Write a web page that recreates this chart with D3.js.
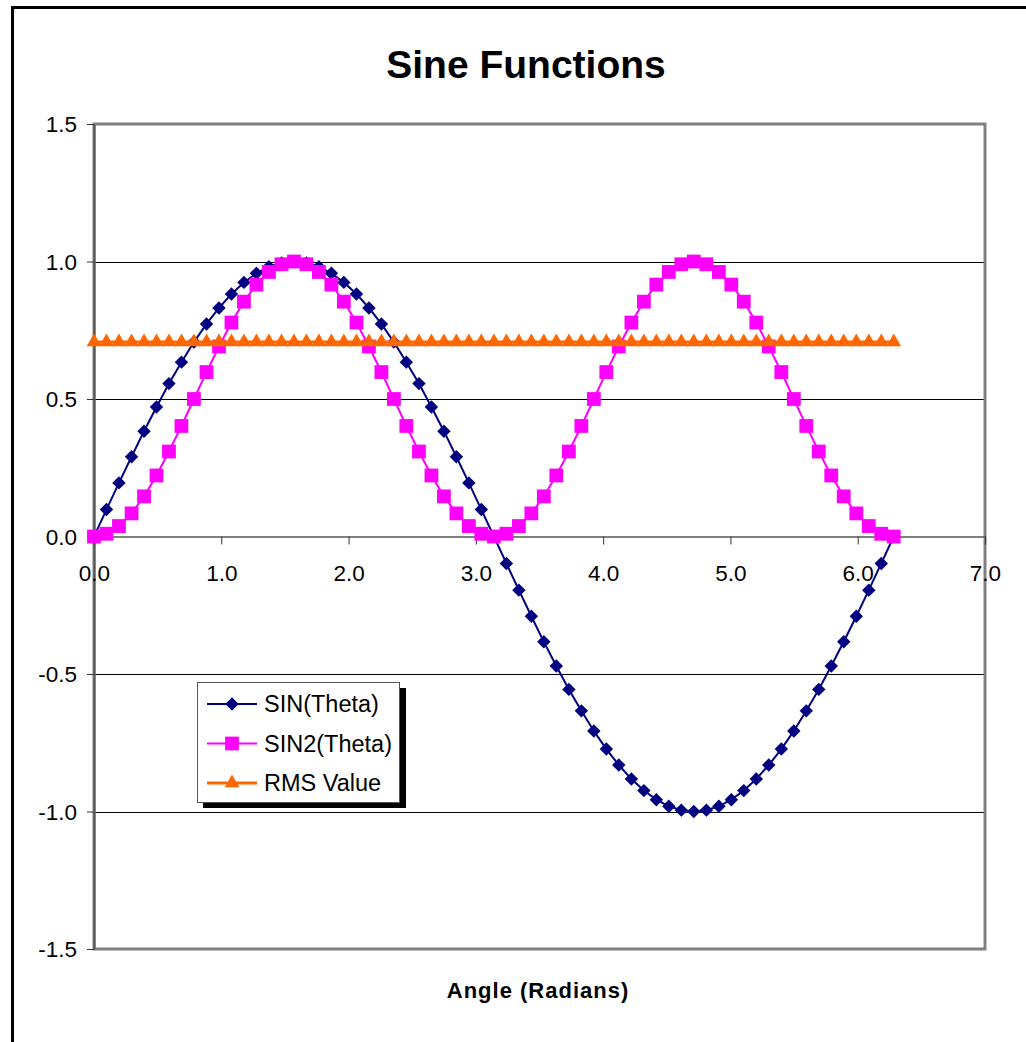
<!DOCTYPE html>
<html>
<head>
  <meta charset="utf-8">
  <title>Sine Functions</title>
  <style>
    body { margin: 0; background: #fff; }
    svg { display: block; font-family: "Liberation Sans", Arial, sans-serif; }
  </style>
</head>
<body>
  <svg></svg>
  <script src="https://d3js.org/d3.v7.min.js"></script>
  <script>
    const width = 1026;
    const height = 1042;

    // angle values (radians)
    const theta = [0.000, 0.098, 0.196, 0.295, 0.393, 0.491, 0.589, 0.687, 0.785, 0.884,
      0.982, 1.080, 1.178, 1.276, 1.374, 1.473, 1.571, 1.669, 1.767, 1.865,
      1.963, 2.062, 2.160, 2.258, 2.356, 2.454, 2.553, 2.651, 2.749, 2.847,
      2.945, 3.043, 3.142, 3.240, 3.338, 3.436, 3.534, 3.632, 3.731, 3.829,
      3.927, 4.025, 4.123, 4.222, 4.320, 4.418, 4.516, 4.614, 4.712, 4.811,
      4.909, 5.007, 5.105, 5.203, 5.301, 5.400, 5.498, 5.596, 5.694, 5.792,
      5.890, 5.989, 6.087, 6.185, 6.283];

    const sinValues = [0.000, 0.098, 0.195, 0.290, 0.383, 0.471, 0.556, 0.634, 0.707, 0.773,
      0.831, 0.882, 0.924, 0.957, 0.981, 0.995, 1.000, 0.995, 0.981, 0.957,
      0.924, 0.882, 0.831, 0.773, 0.707, 0.634, 0.556, 0.471, 0.383, 0.290,
      0.195, 0.098, 0.000, -0.098, -0.195, -0.290, -0.383, -0.471, -0.556, -0.634,
      -0.707, -0.773, -0.831, -0.882, -0.924, -0.957, -0.981, -0.995, -1.000, -0.995,
      -0.981, -0.957, -0.924, -0.882, -0.831, -0.773, -0.707, -0.634, -0.556, -0.471,
      -0.383, -0.290, -0.195, -0.098, 0.000];

    const sin2Values = [0.000, 0.010, 0.038, 0.084, 0.146, 0.222, 0.309, 0.402, 0.500, 0.598,
      0.691, 0.778, 0.854, 0.916, 0.962, 0.990, 1.000, 0.990, 0.962, 0.916,
      0.854, 0.778, 0.691, 0.598, 0.500, 0.402, 0.309, 0.222, 0.146, 0.084,
      0.038, 0.010, 0.000, 0.010, 0.038, 0.084, 0.146, 0.222, 0.309, 0.402,
      0.500, 0.598, 0.691, 0.778, 0.854, 0.916, 0.962, 0.990, 1.000, 0.990,
      0.962, 0.916, 0.854, 0.778, 0.691, 0.598, 0.500, 0.402, 0.309, 0.222,
      0.146, 0.084, 0.038, 0.010, 0.000];

    const rmsValues = [0.707, 0.707, 0.707, 0.707, 0.707, 0.707, 0.707, 0.707, 0.707, 0.707,
      0.707, 0.707, 0.707, 0.707, 0.707, 0.707, 0.707, 0.707, 0.707, 0.707,
      0.707, 0.707, 0.707, 0.707, 0.707, 0.707, 0.707, 0.707, 0.707, 0.707,
      0.707, 0.707, 0.707, 0.707, 0.707, 0.707, 0.707, 0.707, 0.707, 0.707,
      0.707, 0.707, 0.707, 0.707, 0.707, 0.707, 0.707, 0.707, 0.707, 0.707,
      0.707, 0.707, 0.707, 0.707, 0.707, 0.707, 0.707, 0.707, 0.707, 0.707,
      0.707, 0.707, 0.707, 0.707, 0.707];

    const seriesNames = ["SIN(Theta)", "SIN2(Theta)", "RMS Value"];
    const seriesColors = ["#000080", "#ff00ff", "#ff6600"];
    const seriesSymbols = [d3.symbolDiamond2, d3.symbolSquare, d3.symbolTriangle];

    const xTicks = [0, 1, 2, 3, 4, 5, 6, 7];
    const yTicks = [-1.5, -1.0, -0.5, 0.0, 0.5, 1.0, 1.5];

    const plot = { left: 94, right: 985, top: 124, bottom: 949 };

    const x = d3.scaleLinear([0, 7], [plot.left, plot.right]);
    const y = d3.scaleLinear([-1.5, 1.5], [plot.bottom, plot.top]);

    // plain hyphen for negatives, like the original
    const fmt = d => d3.format(".1f")(d).replace("\u2212", "-");

    const svg = d3.select("svg")
      .attr("width", width)
      .attr("height", height)
      .attr("viewBox", [0, 0, width, height]);

    // outer chart border (runs off the right/bottom of the picture)
    svg.append("rect")
      .attr("x", 12.5).attr("y", 7.5)
      .attr("width", width + 20).attr("height", height + 20)
      .attr("fill", "#fff")
      .attr("stroke", "#000")
      .attr("stroke-width", 3);

    svg.append("text")
      .attr("x", 526).attr("y", 78)
      .attr("text-anchor", "middle")
      .attr("font-weight", "bold")
      .attr("font-size", 39)
      .text("Sine Functions");

    // gridlines
    svg.append("g")
      .selectAll("line")
      .data(yTicks.filter(d => d !== 0 && Math.abs(d) !== 1.5))
      .join("line")
      .attr("x1", plot.left).attr("x2", plot.right)
      .attr("y1", d => Math.round(y(d)) + 0.5).attr("y2", d => Math.round(y(d)) + 0.5)
      .attr("stroke", "#000")
      .attr("stroke-width", 1);

    // plot area border
    svg.append("rect")
      .attr("x", plot.left).attr("y", plot.top)
      .attr("width", plot.right - plot.left).attr("height", plot.bottom - plot.top)
      .attr("fill", "none")
      .attr("stroke", "#808080")
      .attr("stroke-width", 3);

    // y axis
    const yAxis = svg.append("g")
      .attr("transform", `translate(${plot.left},0)`)
      .call(d3.axisLeft(y).tickValues(yTicks).tickFormat(fmt).tickSize(7).tickSizeOuter(0));
    yAxis.select(".domain").attr("stroke", "#555").attr("stroke-width", 2);
    yAxis.selectAll(".tick line").attr("stroke", "#333");
    yAxis.selectAll(".tick text")
      .attr("font-size", 22.5)
      .attr("font-family", "Liberation Sans, Arial, sans-serif")
      .attr("fill", "#000")
      .attr("x", -17)
      .attr("dy", "0.35em");

    // x axis crosses at zero
    const xAxis = svg.append("g")
      .attr("transform", `translate(0,${y(0)})`)
      .call(d3.axisBottom(x).tickValues(xTicks).tickFormat(fmt).tickSize(8).tickSizeOuter(0));
    xAxis.select(".domain").attr("stroke", "#555").attr("stroke-width", 1.5);
    xAxis.selectAll(".tick line").attr("stroke", "#333");
    xAxis.selectAll(".tick text")
      .attr("font-size", 22.5)
      .attr("font-family", "Liberation Sans, Arial, sans-serif")
      .attr("fill", "#000")
      .attr("y", 29)
      .attr("dy", "0.71em");

    svg.append("text")
      .attr("x", 538).attr("y", 998)
      .attr("text-anchor", "middle")
      .attr("font-weight", "bold")
      .attr("font-size", 22)
      .attr("letter-spacing", 1)
      .text("Angle (Radians)");

    // series
    const series = [sinValues, sin2Values, rmsValues].map((vals, i) => ({
      name: seriesNames[i],
      color: seriesColors[i],
      symbol: seriesSymbols[i],
      points: theta.map((t, j) => [t, vals[j]])
    }));
    const symbolSizes = [115, 190, 95];
    const lineWidths = [2, 2, 3];

    const line = d3.line().x(d => x(d[0])).y(d => y(d[1]));

    series.forEach((s, i) => {
      const g = svg.append("g");
      g.append("path")
        .attr("d", line(s.points))
        .attr("fill", "none")
        .attr("stroke", s.color)
        .attr("stroke-width", lineWidths[i]);
      g.selectAll("path.mark")
        .data(s.points)
        .join("path")
        .attr("class", "mark")
        .attr("transform", d => `translate(${x(d[0])},${y(d[1])})`)
        .attr("d", d3.symbol(s.symbol, symbolSizes[i]))
        .attr("fill", s.color);
    });

    // legend
    const legend = svg.append("g").attr("transform", "translate(197,682)");
    legend.append("rect")
      .attr("x", 6).attr("y", 6).attr("width", 203).attr("height", 120)
      .attr("fill", "#000");
    legend.append("rect")
      .attr("x", 0.5).attr("y", 0.5).attr("width", 202).attr("height", 120)
      .attr("fill", "#fff")
      .attr("stroke", "#555")
      .attr("stroke-width", 1);
    const rows = legend.selectAll("g.row")
      .data(series)
      .join("g")
      .attr("class", "row")
      .attr("transform", (d, i) => `translate(0,${22 + i * 39.5})`);
    rows.append("line")
      .attr("x1", 10).attr("x2", 60)
      .attr("stroke", d => d.color)
      .attr("stroke-width", (d, i) => lineWidths[i]);
    rows.append("path")
      .attr("transform", "translate(35,0)")
      .attr("d", (d, i) => d3.symbol(d.symbol, symbolSizes[i])())
      .attr("fill", d => d.color);
    rows.append("text")
      .attr("x", 67).attr("y", 8)
      .attr("font-size", 23.5)
      .text(d => d.name);
  </script>
</body>
</html>
